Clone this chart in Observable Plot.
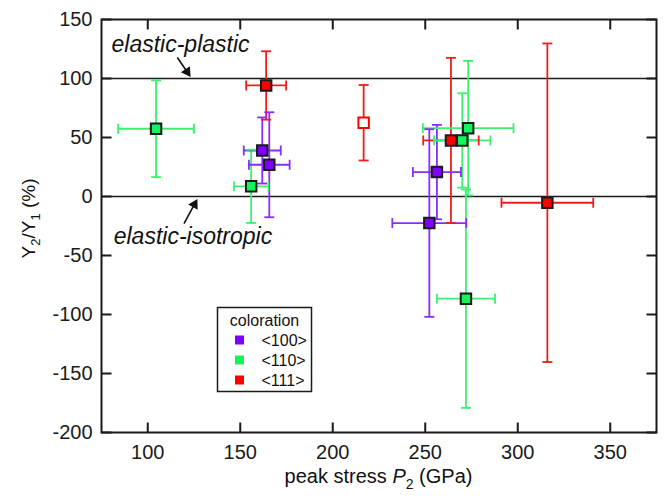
<!DOCTYPE html>
<html><head><meta charset="utf-8">
<script src="https://cdn.jsdelivr.net/npm/d3@7"></script>
<script src="https://cdn.jsdelivr.net/npm/@observablehq/plot@0.6"></script>
<style>body{margin:0;background:#fff;} svg{display:block}</style>
</head><body><div id="chart"></div>
<script>
// ---- data ----
const orientation = ["<110>","<111>","<100>","<100>","<110>","<111>","<100>","<100>","<111>","<110>","<110>","<111>","<110>"];
const peakStress  = [104.5, 164.0, 161.9, 165.7, 155.9, 216.7, 256.3, 252.2, 263.9, 270.0, 273.2, 316.0, 272.0];
const stressErr   = [20.5, 10.8, 10, 11, 9.3, 0, 13, 20, 15, 15.2, 24.5, 24.8, 15.7];
const ratio       = [57.4, 94.1, 39.0, 26.9, 8.6, 62.5, 20.7, -22.5, 47.5, 47.5, 57.9, -5.3, -86.6];
const ratioErr    = [41, 29, 28, 44.5, 31, 32, 40, 79.5, 70, 40, 57, 135, 92.6];
const filled      = [true, true, true, true, true, false, true, true, true, true, true, true, true];
const legendLabels = ["<100>", "<110>", "<111>"];
const xTicks = [100, 150, 200, 250, 300, 350];
const yTicks = [-200, -150, -100, -50, 0, 50, 100, 150];
const refLines = [0, 100];
const annotText = ["elastic-plastic", "elastic-isotropic"];
const annotX = [80.4, 81.6];
const annotY = [128.5, -34];
const arrowX1 = [116.0, 119.6], arrowY1 = [117.8, -23.0];
const arrowX2 = [122.2, 126.0], arrowY2 = [103.5, -4.5];

const fillColor = {"<100>": "#7F00FF", "<110>": "#14F55C", "<111>": "#FF0000"};
const barColor  = {"<100>": "#8A2BFF", "<110>": "#3CF070", "<111>": "#F01C1C"};

const W = 665, H = 498, mL = 101, mR = 9, mT = 19, mB = 66;
const xDom = [75, 375], yDom = [-200, 150];
const kx = (W - mL - mR) / (xDom[1] - xDom[0]);
const ky = (H - mT - mB) / (yDom[1] - yDom[0]);
const tickLen = 10;

const rows = orientation.map((o, i) => ({o, x: peakStress[i], ex: stressErr[i], y: ratio[i], ey: ratioErr[i], filled: filled[i]}));
const hRows = rows.filter(d => d.ex > 0);
const annots = annotText.map((t, i) => ({t, x: annotX[i], y: annotY[i]}));
const arrows = arrowX1.map((d, i) => {
  const dxp = (arrowX2[i] - arrowX1[i]) * kx, dyp = (arrowY2[i] - arrowY1[i]) * ky;
  const len = Math.hypot(dxp, dyp), ux = dxp / len, uy = dyp / len;
  return {x1: arrowX1[i], y1: arrowY1[i], x2: arrowX2[i], y2: arrowY2[i],
    sx: arrowX2[i] - 5 * ux / kx, sy: arrowY2[i] - 5 * uy / ky,
    hx: arrowX2[i] - 3 * ux / kx, hy: arrowY2[i] - 3 * uy / ky,
    angle: Math.atan2(dxp, dyp) * 180 / Math.PI};
});
// inward tick segments (bottom, top, left, right)
const tickSegs = [
  ...xTicks.map(v => ({x1: v, x2: v, y1: yDom[0], y2: yDom[0] + tickLen / ky})),
  ...xTicks.map(v => ({x1: v, x2: v, y1: yDom[1], y2: yDom[1] - tickLen / ky})),
  ...yTicks.map(v => ({x1: xDom[0], x2: xDom[0] + tickLen / kx, y1: v, y2: v})),
  ...yTicks.map(v => ({x1: xDom[1], x2: xDom[1] - tickLen / kx, y1: v, y2: v}))
];

const hCap = {draw(ctx) { ctx.moveTo(-5, 0); ctx.lineTo(5, 0); }};
const vCap = {draw(ctx) { ctx.moveTo(0, -5); ctx.lineTo(0, 5); }};
const font = "'Liberation Sans', Arial, Helvetica, sans-serif";
const axisCol = "#1a1a1a";

const plot = Plot.plot({
  width: W, height: H,
  marginLeft: mL, marginRight: mR, marginTop: mT, marginBottom: mB,
  style: {fontFamily: font, background: "white", color: axisCol},
  x: {domain: xDom},
  y: {domain: yDom},
  color: {type: "identity"},
  marks: [
    Plot.ruleY(refLines, {stroke: axisCol, strokeWidth: 1.6}),
    Plot.axisX({anchor: "bottom", ticks: xTicks, tickSize: 0, tickPadding: 12, fontSize: 20, label: null, tickFormat: d => String(d)}),
    Plot.axisY({anchor: "left", ticks: yTicks, tickSize: 0, tickPadding: 9, fontSize: 20, label: null, tickFormat: d => String(d)}),
    Plot.frame({stroke: axisCol, strokeWidth: 2}),
    Plot.link(tickSegs, {x1: "x1", y1: "y1", x2: "x2", y2: "y2", stroke: axisCol, strokeWidth: 2}),
    // error bars
    Plot.link(rows, {x1: "x", x2: "x", y1: d => d.y - d.ey, y2: d => d.y + d.ey, stroke: d => barColor[d.o], strokeWidth: 1.8}),
    Plot.link(hRows, {x1: d => d.x - d.ex, x2: d => d.x + d.ex, y1: "y", y2: "y", stroke: d => barColor[d.o], strokeWidth: 1.8}),
    Plot.dot(rows, {x: "x", y: d => d.y - d.ey, symbol: hCap, fill: "none", stroke: d => barColor[d.o], strokeWidth: 1.8}),
    Plot.dot(rows, {x: "x", y: d => d.y + d.ey, symbol: hCap, fill: "none", stroke: d => barColor[d.o], strokeWidth: 1.8}),
    Plot.dot(hRows, {x: d => d.x - d.ex, y: "y", symbol: vCap, fill: "none", stroke: d => barColor[d.o], strokeWidth: 1.8}),
    Plot.dot(hRows, {x: d => d.x + d.ex, y: "y", symbol: vCap, fill: "none", stroke: d => barColor[d.o], strokeWidth: 1.8}),
    // markers
    Plot.dot(rows, {x: "x", y: "y", symbol: "square", r: 5.9,
      fill: d => d.filled ? fillColor[d.o] : "white",
      stroke: d => d.filled ? "#1a1a1a" : fillColor[d.o], strokeWidth: 2}),
    // annotations
    Plot.link(arrows, {x1: "x1", y1: "y1", x2: "sx", y2: "sy", stroke: "#111", strokeWidth: 1.6}),
    Plot.dot(arrows, {x: "hx", y: "hy", symbol: "triangle", r: 4, rotate: "angle", fill: "#111", stroke: "none"}),
    Plot.text(annots, {x: "x", y: "y", text: "t", textAnchor: "start", fontStyle: "italic", fontSize: 23, fill: "#111"})
  ]
});
document.getElementById("chart").appendChild(plot);

const svg = d3.select(plot);
const xs = plot.scale("x"), ys = plot.scale("y");
const [xL, xR] = xs.range, [yB, yT] = ys.range;

// axis titles and legend (real SVG text)
const cx = (xL + xR) / 2;
const cy = (yB + yT) / 2;
const xl = svg.append("text").attr("x", cx).attr("y", 483).attr("text-anchor", "middle")
  .attr("font-family", font).attr("font-size", 20).attr("fill", "#111");
xl.append("tspan").text("peak stress ");
xl.append("tspan").attr("font-style", "italic").text("P");
xl.append("tspan").attr("font-size", 14).attr("dy", 6).text("2");
xl.append("tspan").attr("dy", -6).text(" (GPa)");

const yl = svg.append("text").attr("transform", `translate(35,${cy - 7}) rotate(-90)`).attr("text-anchor", "middle")
  .attr("font-family", font).attr("font-size", 19).attr("fill", "#111");
yl.append("tspan").text("Y");
yl.append("tspan").attr("font-size", 13).attr("dy", 5).text("2");
yl.append("tspan").attr("dy", -5).text("/Y");
yl.append("tspan").attr("font-size", 13).attr("dy", 5).text("1");
yl.append("tspan").attr("dy", -5).text(" (%)");

const lg = svg.append("g").attr("font-family", font).attr("font-size", 16).attr("fill", "#111").attr("text-anchor", "start");
lg.append("rect").attr("x", 217.5).attr("y", 307.5).attr("width", 94).attr("height", 84)
  .attr("fill", "white").attr("stroke", "#1a1a1a").attr("stroke-width", 1.5);
lg.append("text").attr("x", 264.5).attr("y", 326).attr("text-anchor", "middle").text("coloration");
legendLabels.forEach((lab, i) => {
  const yy = 340 + i * 20;
  lg.append("rect").attr("x", 235).attr("y", yy - 4.5).attr("width", 9).attr("height", 9).attr("fill", fillColor[lab]);
  lg.append("text").attr("x", 261.5).attr("y", yy + 6).text(lab);
});
</script>
</body></html>
